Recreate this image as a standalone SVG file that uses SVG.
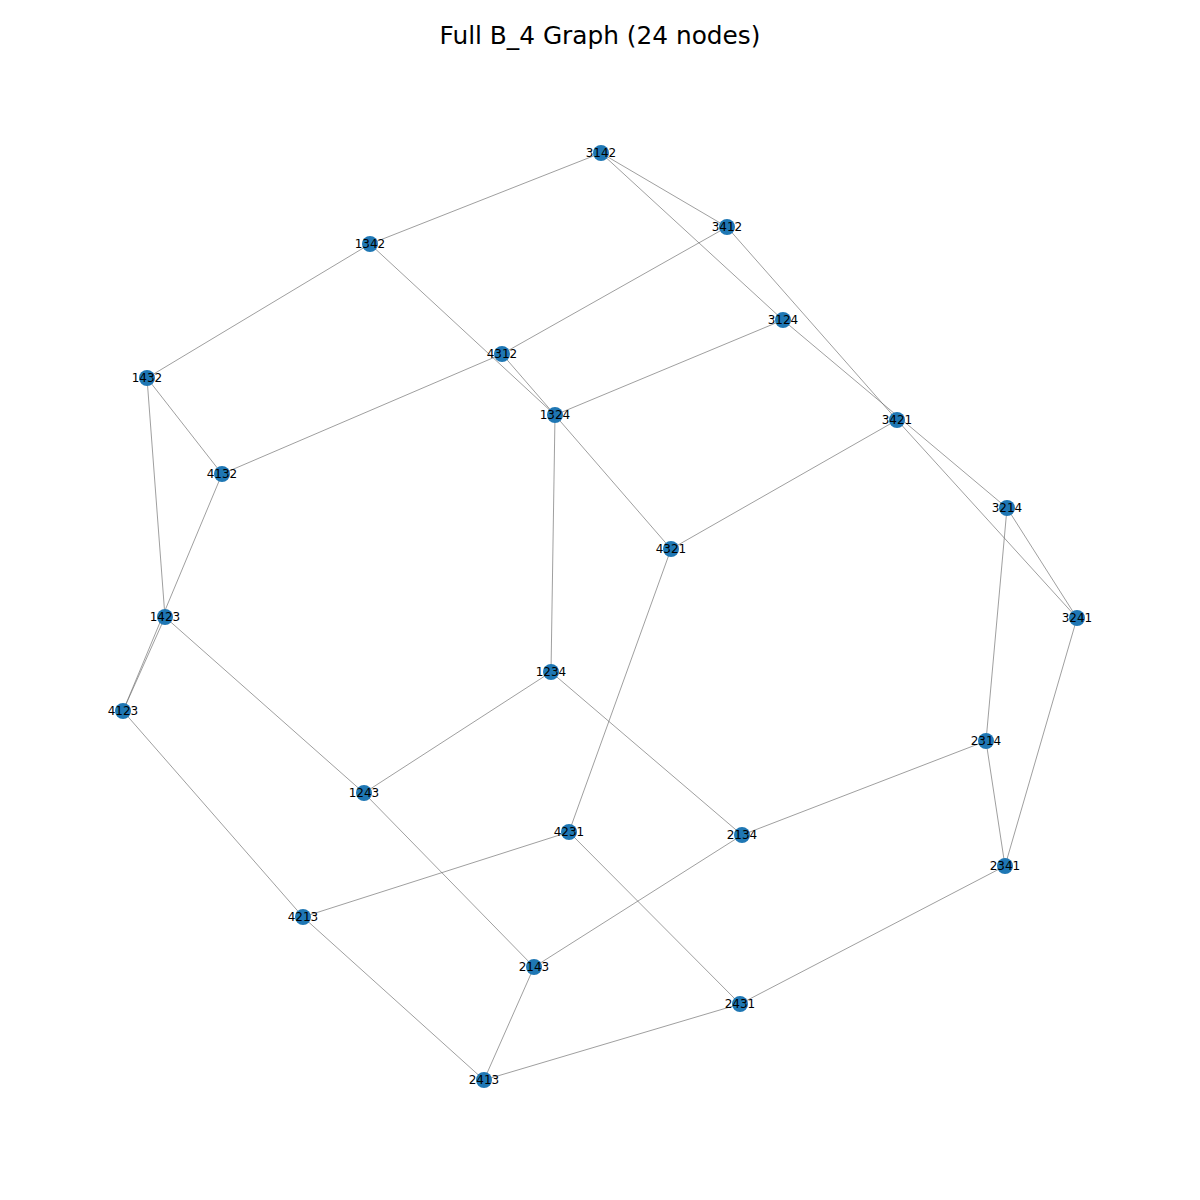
<svg xmlns="http://www.w3.org/2000/svg" width="1200" height="1200" viewBox="0 0 1200 1200">
<style>
.bg{fill:#ffffff}
.title{font-family:"DejaVu Sans",sans-serif;font-size:24.8px;fill:#000;text-anchor:middle}
.e{stroke:#6a6a6a;stroke-width:0.65;fill:none}
.n circle{fill:#1f77b4}
.n text{font-family:"DejaVu Sans",sans-serif;font-size:12px;fill:#000;text-anchor:middle;dominant-baseline:central}
</style>
<rect class="bg" x="0" y="0" width="1200" height="1200"/>
<text class="title" x="600" y="44">Full B_4 Graph (24 nodes)</text>
<g id="edges">
<line class="e" x1="551" y1="672" x2="742" y2="835"/>
<line class="e" x1="551" y1="672" x2="555" y2="415"/>
<line class="e" x1="551" y1="672" x2="364" y2="793"/>
<line class="e" x1="364" y1="793" x2="534" y2="967"/>
<line class="e" x1="364" y1="793" x2="165" y2="617"/>
<line class="e" x1="555" y1="415" x2="783" y2="320"/>
<line class="e" x1="555" y1="415" x2="370" y2="244"/>
<line class="e" x1="370" y1="244" x2="601" y2="153"/>
<line class="e" x1="370" y1="244" x2="147" y2="378"/>
<line class="e" x1="165" y1="617" x2="123" y2="711"/>
<line class="e" x1="165" y1="617" x2="147" y2="378"/>
<line class="e" x1="147" y1="378" x2="222" y2="474"/>
<line class="e" x1="742" y1="835" x2="986" y2="741"/>
<line class="e" x1="742" y1="835" x2="534" y2="967"/>
<line class="e" x1="534" y1="967" x2="484" y2="1080"/>
<line class="e" x1="986" y1="741" x2="1007" y2="508"/>
<line class="e" x1="986" y1="741" x2="1005" y2="866"/>
<line class="e" x1="1005" y1="866" x2="1077" y2="618"/>
<line class="e" x1="1005" y1="866" x2="740" y2="1004"/>
<line class="e" x1="484" y1="1080" x2="303" y2="917"/>
<line class="e" x1="484" y1="1080" x2="740" y2="1004"/>
<line class="e" x1="740" y1="1004" x2="569" y2="832"/>
<line class="e" x1="783" y1="320" x2="1007" y2="508"/>
<line class="e" x1="783" y1="320" x2="601" y2="153"/>
<line class="e" x1="601" y1="153" x2="727" y2="227"/>
<line class="e" x1="1007" y1="508" x2="1077" y2="618"/>
<line class="e" x1="1077" y1="618" x2="897" y2="420"/>
<line class="e" x1="727" y1="227" x2="502" y2="354"/>
<line class="e" x1="727" y1="227" x2="897" y2="420"/>
<line class="e" x1="897" y1="420" x2="671" y2="549"/>
<line class="e" x1="123" y1="711" x2="303" y2="917"/>
<line class="e" x1="123" y1="711" x2="222" y2="474"/>
<line class="e" x1="222" y1="474" x2="502" y2="354"/>
<line class="e" x1="303" y1="917" x2="569" y2="832"/>
<line class="e" x1="569" y1="832" x2="671" y2="549"/>
<line class="e" x1="502" y1="354" x2="671" y2="549"/>
</g>
<g id="n3142" class="n"><circle cx="601" cy="153" r="8"/><text x="601" y="153">3142</text></g>
<g id="n3412" class="n"><circle cx="727" cy="227" r="8"/><text x="727" y="227">3412</text></g>
<g id="n1342" class="n"><circle cx="370" cy="244" r="8"/><text x="370" y="244">1342</text></g>
<g id="n3124" class="n"><circle cx="783" cy="320" r="8"/><text x="783" y="320">3124</text></g>
<g id="n4312" class="n"><circle cx="502" cy="354" r="8"/><text x="502" y="354">4312</text></g>
<g id="n1432" class="n"><circle cx="147" cy="378" r="8"/><text x="147" y="378">1432</text></g>
<g id="n1324" class="n"><circle cx="555" cy="415" r="8"/><text x="555" y="415">1324</text></g>
<g id="n3421" class="n"><circle cx="897" cy="420" r="8"/><text x="897" y="420">3421</text></g>
<g id="n4132" class="n"><circle cx="222" cy="474" r="8"/><text x="222" y="474">4132</text></g>
<g id="n3214" class="n"><circle cx="1007" cy="508" r="8"/><text x="1007" y="508">3214</text></g>
<g id="n4321" class="n"><circle cx="671" cy="549" r="8"/><text x="671" y="549">4321</text></g>
<g id="n1423" class="n"><circle cx="165" cy="617" r="8"/><text x="165" y="617">1423</text></g>
<g id="n3241" class="n"><circle cx="1077" cy="618" r="8"/><text x="1077" y="618">3241</text></g>
<g id="n1234" class="n"><circle cx="551" cy="672" r="8"/><text x="551" y="672">1234</text></g>
<g id="n4123" class="n"><circle cx="123" cy="711" r="8"/><text x="123" y="711">4123</text></g>
<g id="n2314" class="n"><circle cx="986" cy="741" r="8"/><text x="986" y="741">2314</text></g>
<g id="n1243" class="n"><circle cx="364" cy="793" r="8"/><text x="364" y="793">1243</text></g>
<g id="n4231" class="n"><circle cx="569" cy="832" r="8"/><text x="569" y="832">4231</text></g>
<g id="n2134" class="n"><circle cx="742" cy="835" r="8"/><text x="742" y="835">2134</text></g>
<g id="n2341" class="n"><circle cx="1005" cy="866" r="8"/><text x="1005" y="866">2341</text></g>
<g id="n4213" class="n"><circle cx="303" cy="917" r="8"/><text x="303" y="917">4213</text></g>
<g id="n2143" class="n"><circle cx="534" cy="967" r="8"/><text x="534" y="967">2143</text></g>
<g id="n2431" class="n"><circle cx="740" cy="1004" r="8"/><text x="740" y="1004">2431</text></g>
<g id="n2413" class="n"><circle cx="484" cy="1080" r="8"/><text x="484" y="1080">2413</text></g>
</svg>
